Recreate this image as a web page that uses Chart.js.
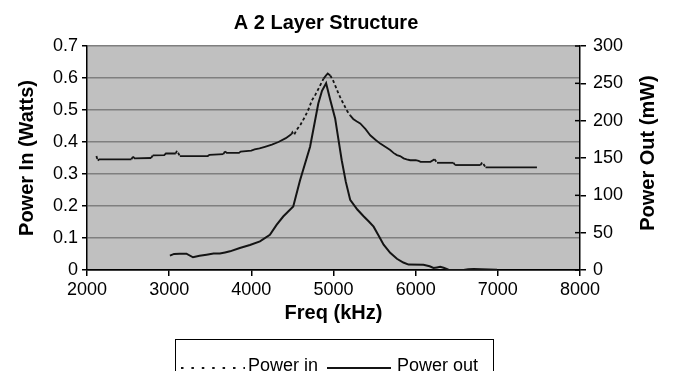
<!DOCTYPE html>
<html>
<head>
<meta charset="utf-8">
<script src="https://cdn.jsdelivr.net/npm/chart.js@4.4.1/dist/chart.umd.min.js"></script>
<style>
html,body{margin:0;padding:0;background:#fff;}
#wrap{width:674px;height:371px;position:relative;overflow:hidden;}
</style>
</head>
<body>
<div id="wrap"><canvas id="c" width="674" height="371"></canvas></div>
<script>
const chartTitle = 'A 2 Layer Structure';
const xTitle = 'Freq (kHz)';
const yLeftTitle = 'Power In (Watts)';
const yRightTitle = 'Power Out (mW)';
const seriesNames = ['Power in', 'Power out'];

const xTicks = [2000, 3000, 4000, 5000, 6000, 7000, 8000];
const xTickLabels = ['2000', '3000', '4000', '5000', '6000', '7000', '8000'];
const yLeftTicks = [0, 0.1, 0.2, 0.3, 0.4, 0.5, 0.6, 0.7];
const yLeftTickLabels = ['0', '0.1', '0.2', '0.3', '0.4', '0.5', '0.6', '0.7'];
const yRightTicks = [0, 50, 100, 150, 200, 250, 300];
const yRightTickLabels = ['0', '50', '100', '150', '200', '250', '300'];

// Power in (W) vs frequency (kHz)
const inFreq = [2115,2130,2150,2540,2560,2580,2780,2800,2940,2960,
  3080,3095,3130,3470,3490,3660,3680,3700,3850,3870,
  4000,4040,4100,4165,4250,4330,4420,4490,4500,4520,
  4550,4600,4655,4700,4737,4780,4818,4850,4879,4910,
  4930,4960,4990,5020,5050,5081,5110,5142,5170,5203,
  5240,5280,5325,5390,5447,5510,5569,5630,5690,5730,
  5772,5810,5853,5890,5934,6000,6036,6060,6180,6230,
  6260,6460,6480,6790,6810,6850,7476];
const inPower = [0.356,0.342,0.346,0.346,0.354,0.349,0.350,0.358,0.359,0.364,
  0.364,0.373,0.356,0.356,0.360,0.362,0.371,0.366,0.366,0.370,
  0.373,0.377,0.380,0.385,0.392,0.400,0.412,0.425,0.430,0.422,
  0.437,0.455,0.480,0.505,0.530,0.548,0.567,0.583,0.598,0.608,
  0.614,0.608,0.595,0.577,0.558,0.540,0.525,0.509,0.495,0.483,
  0.472,0.465,0.458,0.440,0.421,0.407,0.395,0.385,0.375,0.366,
  0.359,0.356,0.349,0.346,0.343,0.343,0.341,0.338,0.338,0.346,
  0.335,0.335,0.328,0.328,0.337,0.321,0.321];

// Power out (mW) vs frequency (kHz)
const outFreq = [3009,3060,3130,3210,3290,3370,3455,3540,3617,3680,
  3740,3860,3983,4105,4226,4307,4388,4510,4592,4715,
  4815,4860,4910,4960,5020,5060,5100,5150,5203,5290,
  5366,5430,5488,5550,5610,5690,5772,5850,5913,6094,
  6170,6217,6260,6298,6340,6400,6583,6640,6705,6990];
const outPower = [19.2,21.5,21.9,21.9,17.0,19.0,20.5,22.0,22.0,23.5,
  25.0,29.4,33.4,38.3,47.2,60.5,71.6,85.0,120,165,
  223,240,250,228,203,175,147,118,94,81,
  72,65,58,46,34,23,15,10,7.2,7.0,
  5.0,2.8,3.5,4.2,3.0,0.5,0.0,1.0,1.5,0.5];

const FONT = "'Liberation Sans', Arial, Helvetica, sans-serif";
const LINE = '#141414';

const bgPlugin = {
  id: 'plotBg',
  beforeDraw(chart) {
    const a = chart.chartArea, ctx = chart.ctx;
    ctx.save();
    ctx.fillStyle = '#ffffff';
    ctx.fillRect(0, 0, chart.width, chart.height);
    ctx.fillStyle = '#c0c0c0';
    ctx.fillRect(a.left, a.top, a.right - a.left, a.bottom - a.top);
    ctx.restore();
  }
};

const titleShift = {
  id: 'titleShift',
  afterLayout(chart) {
    const t = chart.titleBlock;
    if (t) { t.left -= 11; t.right -= 11; }
  }
};

const extras = {
  id: 'extras',
  afterDraw(chart) {
    const ctx = chart.ctx;
    const y2 = chart.scales.y2;
    ctx.save();
    // inner halves of the right-axis tick marks
    ctx.strokeStyle = '#000';
    ctx.lineWidth = 1.5;
    y2.ticks.forEach(t => {
      const py = y2.getPixelForValue(t.value);
      ctx.beginPath();
      ctx.moveTo(y2.left - 5, py);
      ctx.lineTo(y2.left, py);
      ctx.stroke();
    });
    // right axis title, reading bottom-to-top like the reference
    const rt = chart.options.scales.y2.title;
    ctx.save();
    ctx.translate(648, 153);
    ctx.rotate(-Math.PI / 2);
    ctx.fillStyle = '#000';
    ctx.font = 'bold 20px ' + FONT;
    ctx.textAlign = 'center';
    ctx.textBaseline = 'middle';
    ctx.fillText(rt.text, 0, 0);
    ctx.restore();
    // legend box
    ctx.lineWidth = 1;
    ctx.strokeStyle = '#000';
    ctx.strokeRect(175.5, 339.5, 318, 50);
    const ds = chart.data.datasets;
    ctx.lineWidth = 2;
    ctx.strokeStyle = LINE;
    ctx.setLineDash([2.5, 7.9]);
    ctx.beginPath(); ctx.moveTo(181, 368); ctx.lineTo(245, 368); ctx.stroke();
    ctx.setLineDash([]);
    ctx.beginPath(); ctx.moveTo(327, 368); ctx.lineTo(391, 368); ctx.stroke();
    ctx.fillStyle = '#000';
    ctx.font = '18px ' + FONT;
    ctx.textBaseline = 'alphabetic';
    ctx.textAlign = 'left';
    ctx.fillText(ds[0].label, 248, 371);
    ctx.fillText(ds[1].label, 397, 371);
    ctx.restore();
  }
};

function steep(ctx) {
  const dx = Math.abs(ctx.p1.x - ctx.p0.x), dy = Math.abs(ctx.p1.y - ctx.p0.y);
  return dy > 1.3 * dx;
}

new Chart(document.getElementById('c'), {
  type: 'line',
  data: {
    datasets: [
      {
        label: seriesNames[0],
        data: inFreq.map((f, i) => ({ x: f, y: inPower[i] })),
        yAxisID: 'y',
        borderColor: LINE,
        borderWidth: 1.8,
        pointRadius: 0,
        tension: 0,
        fill: false,
        segment: {
          borderDash: ctx => steep(ctx) ? [3, 2.5] : []
        }
      },
      {
        label: seriesNames[1],
        data: outFreq.map((f, i) => ({ x: f, y: outPower[i] })),
        yAxisID: 'y2',
        borderColor: LINE,
        borderWidth: 2,
        pointRadius: 0,
        tension: 0,
        fill: false
      }
    ]
  },
  options: {
    responsive: false,
    animation: false,
    devicePixelRatio: 1,
    layout: { padding: 0 },
    plugins: {
      legend: { display: false },
      tooltip: { enabled: false },
      title: {
        display: true,
        text: chartTitle,
        color: '#000',
        font: { family: FONT, size: 20, weight: 'bold', lineHeight: 1.2 },
        padding: { top: 11, bottom: 11 }
      }
    },
    scales: {
      x: {
        type: 'linear',
        position: 'bottom',
        min: 2000, max: 8000,
        afterBuildTicks: s => { s.ticks = xTicks.map(v => ({ value: v })); },
        afterFit: s => { s.height = 101; },
        grid: { drawOnChartArea: false, drawTicks: true, tickLength: 6, color: '#000', lineWidth: 1.5 },
        border: { color: '#000', width: 1.5 },
        ticks: {
          color: '#000', padding: 3, maxRotation: 0, autoSkip: false,
          font: { family: FONT, size: 18 },
          callback: (v, i) => xTickLabels[i]
        },
        title: {
          display: true, text: xTitle, color: '#000',
          font: { family: FONT, size: 20, weight: 'bold', lineHeight: 1.2 },
          padding: { top: 0, bottom: 46 }
        }
      },
      y: {
        type: 'linear',
        position: 'left',
        min: 0, max: 0.7,
        afterBuildTicks: s => { s.ticks = yLeftTicks.map(v => ({ value: v })); },
        afterFit: s => { s.width = 87; },
        grid: {
          color: c => (c.tick && c.tick.value === 0) ? '#000' : '#7f7f7f',
          lineWidth: 1.5, tickColor: '#000', tickWidth: 1.5, tickLength: 5, drawTicks: true
        },
        border: { color: '#000', width: 1.5 },
        ticks: {
          color: '#000', padding: 4,
          font: { family: FONT, size: 18 },
          callback: (v, i) => yLeftTickLabels[i]
        },
        title: {
          display: true, text: yLeftTitle, color: '#000',
          font: { family: FONT, size: 20, weight: 'bold', lineHeight: 1.2 },
          padding: { top: 15, bottom: 0 }
        }
      },
      y2: {
        type: 'linear',
        position: 'right',
        min: 0, max: 300,
        afterBuildTicks: s => { s.ticks = yRightTicks.map(v => ({ value: v })); },
        afterFit: s => { s.width = 94; },
        grid: { drawOnChartArea: false, drawTicks: true, tickLength: 6, color: '#000', lineWidth: 1.5 },
        border: { color: '#000', width: 1.5 },
        ticks: {
          color: '#000', padding: 7,
          font: { family: FONT, size: 18 },
          callback: (v, i) => yRightTickLabels[i]
        },
        title: {
          display: false, text: yRightTitle, color: '#000',
          font: { family: FONT, size: 20, weight: 'bold', lineHeight: 1.2 },
          padding: { top: 14, bottom: 0 }
        }
      }
    }
  },
  plugins: [bgPlugin, titleShift, extras]
});
</script>
</body>
</html>
